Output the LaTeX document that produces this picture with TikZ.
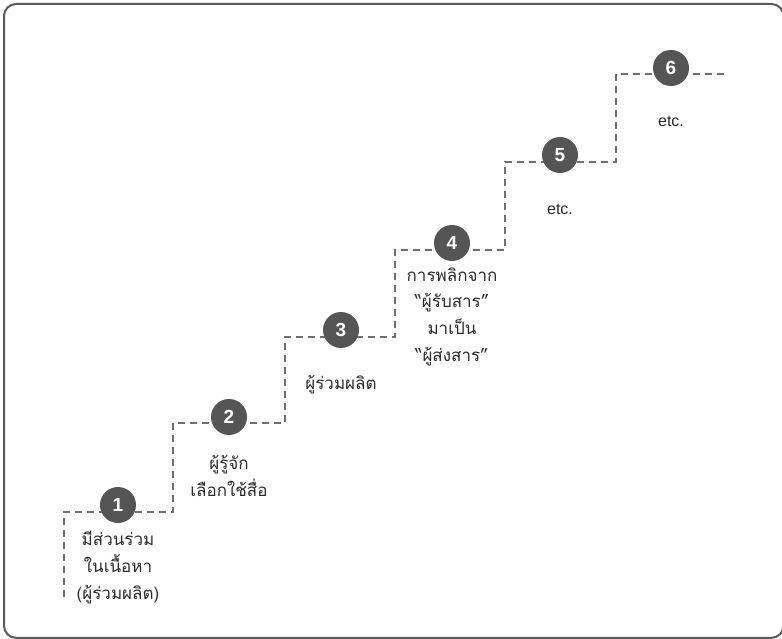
\documentclass[tikz,border=0pt]{standalone}
\usepackage{fontspec}
\setmainfont{Liberation Sans}
\newfontfamily\thaifont[Script=Thai]{Loma}
\definecolor{framegray}{HTML}{5A5A5A}
\definecolor{dotgray}{HTML}{555555}
\definecolor{linegray}{HTML}{707070}
\definecolor{textgray}{HTML}{2A2A2A}
\begin{document}
\begin{tikzpicture}[x=1pt,y=-1pt,
  stepnum/.style={circle,fill=dotgray,minimum size=36pt,inner sep=0pt,text=white,font=\fontsize{19}{19}\selectfont\bfseries},
  steplabel/.style={align=center,anchor=base,inner sep=0pt,text=textgray,font=\thaifont\fontsize{17}{26.6}\selectfont},
  latinlabel/.style={steplabel,font=\fontsize{16}{18}\selectfont},
  stair/.style={draw=linegray,line width=1.4pt,dash pattern=on 7pt off 5pt}]
\useasboundingbox (0,0) rectangle (782,639);
\draw[framegray,line width=2pt,rounded corners=12pt] (4,4) rectangle (783.5,637.8);
% staircase
\coordinate (s0) at (64,597);
\coordinate (s1) at (64,512);
\coordinate (s2) at (173,512);
\coordinate (s3) at (173,423);
\coordinate (s4) at (285,423);
\coordinate (s5) at (285,337);
\coordinate (s6) at (395,337);
\coordinate (s7) at (395,250);
\coordinate (s8) at (505,250);
\coordinate (s9) at (505,162);
\coordinate (s10) at (616,162);
\coordinate (s11) at (616,74);
\coordinate (s12) at (727,74);
\draw[stair] (s0) -- (s1) -- (s2) -- (s3) -- (s4) -- (s5) -- (s6) -- (s7) -- (s8) -- (s9) -- (s10) -- (s11) -- (s12);
% step markers
\node[stepnum] (n1) at (118,505) {1};
\node[stepnum] (n2) at (229,417) {2};
\node[stepnum] (n3) at (341,330) {3};
\node[stepnum] (n4) at (452,243) {4};
\node[stepnum] (n5) at (560,155) {5};
\node[stepnum] (n6) at (671,68) {6};
% labels (anchor = baseline of last line)
\node[steplabel] (l1) at (118,599) {มีส่วนร่วม\\ในเนื้อหา\\(ผู้ร่วมผลิต)};
\node[steplabel] (l2) at (229,496) {ผู้รู้จัก\\เลือกใช้สื่อ};
\node[steplabel] (l3) at (341,389) {ผู้ร่วมผลิต};
\node[steplabel] (l4) at (452,361) {การพลิกจาก\\“ผู้รับสาร”\\มาเป็น\\“ผู้ส่งสาร”};
\node[latinlabel] (l5) at (560,215) {etc.};
\node[latinlabel] (l6) at (671,127) {etc.};
\end{tikzpicture}
\end{document}
